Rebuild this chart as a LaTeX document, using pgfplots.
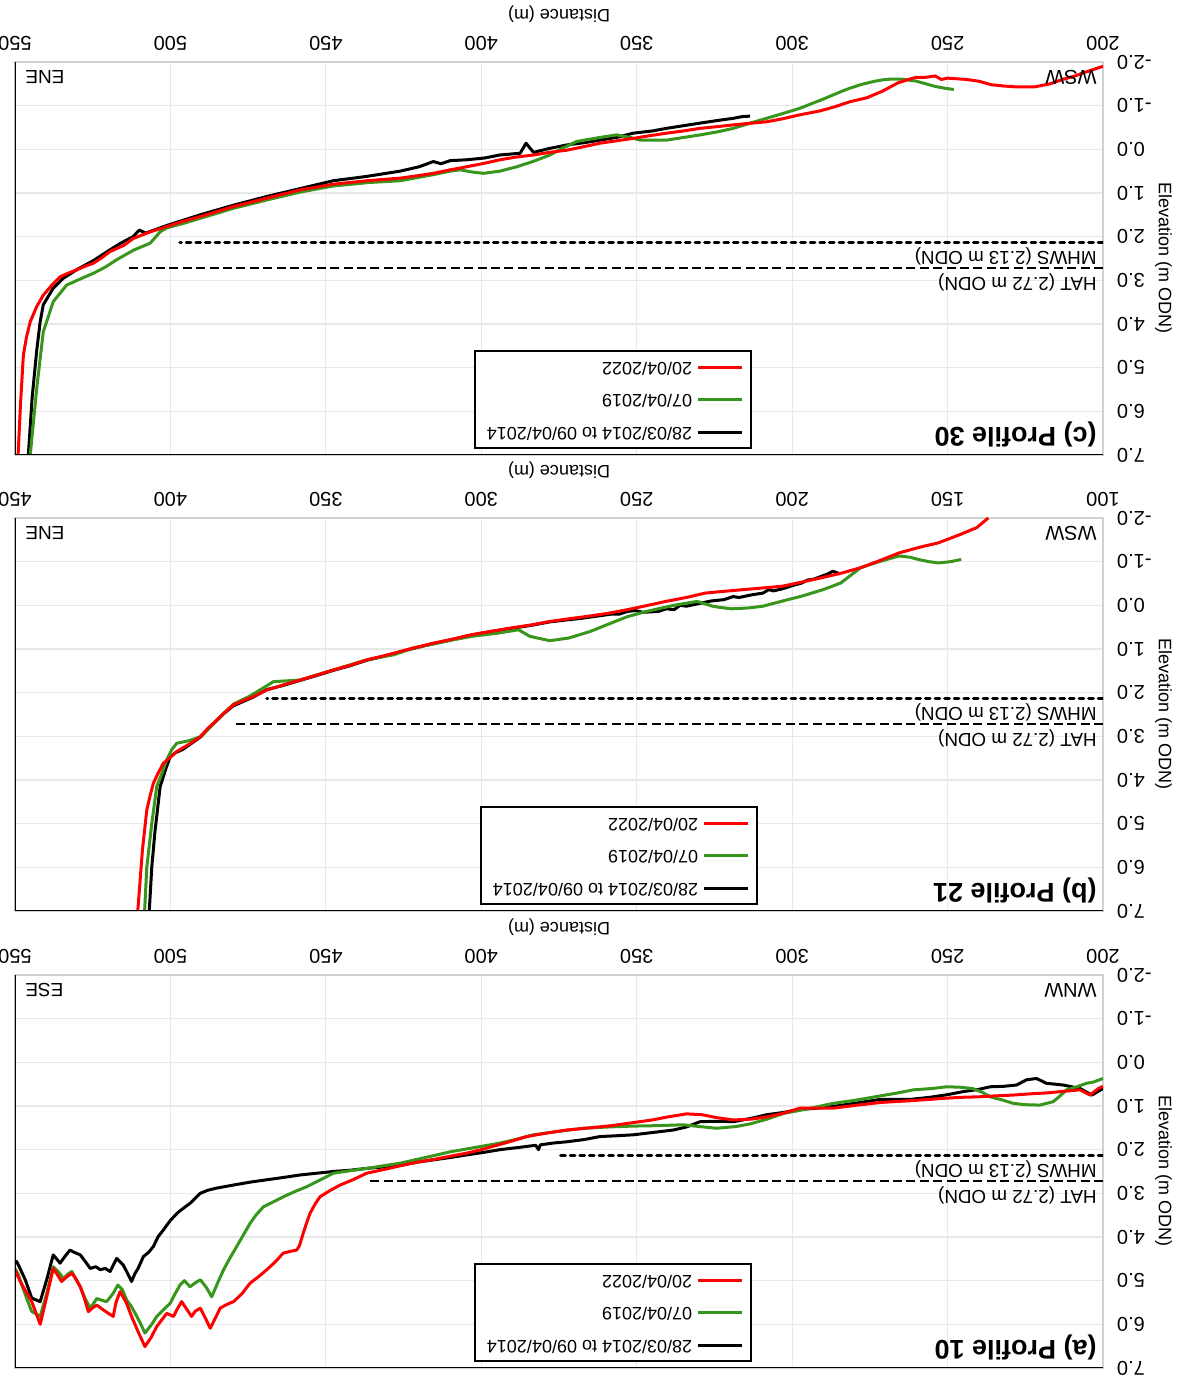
\documentclass[border=0pt]{standalone}
\usepackage{fontspec}
\setmainfont{Liberation Sans}
\usepackage{pgfplots}
\pgfplotsset{compat=1.18}
\definecolor{cgreen}{RGB}{56,150,28}
\definecolor{cred}{RGB}{255,0,0}
\pgfplotsset{
 prof/.style={
   scale only axis, width=544pt, height=196.5pt,
   ymin=-2, ymax=7, ytick={-2,...,7},
   xtick distance=50,
   /pgf/number format/assume math mode=true,
   yticklabel style={xshift=-3.5pt, /pgf/number format/.cd, fixed, fixed zerofill, precision=1},
   xticklabel style={yshift=-2pt, /pgf/number format/.cd, fixed, precision=0},
   tick label style={font=\fontsize{10}{12}\selectfont},
   label style={font=\fontsize{9}{11}\selectfont},
   xlabel={Distance (m)}, ylabel={Elevation (m ODN)},
   ylabel shift=-5pt,
   grid=major, major grid style={gray!18, line width=0.6pt},
   axis line style={gray!35, line width=0.8pt},
   major tick length=0pt,
   legend cell align=left,
   legend image code/.code={\draw[##1] (0pt,0pt) -- (22pt,0pt);},
   legend style={at={(0.3226,0.985)}, anchor=north west, draw=black, line width=0.9pt,
      font=\fontsize{9}{11}\selectfont, row sep=4.2pt, inner xsep=4pt, inner ysep=2pt},
 },
 blk/.style={black, line width=1.5pt, line join=round},
 grn/.style={cgreen, line width=1.5pt, line join=round},
 rd/.style={cred, line width=1.5pt, line join=round},
 hat/.style={black, line width=1.3pt, dash pattern=on 4.5pt off 2.2pt, forget plot},
 mhws/.style={black, line width=1.4pt, line cap=round, dash pattern=on 2.4pt off 2.4pt, forget plot},
}
\newcommand{\frameblack}{\draw[black, line width=1pt] (rel axis cs:0,1) -- (rel axis cs:1,1) -- (rel axis cs:1,0);}
\newcommand{\tlab}[1]{\node[anchor=north west, inner sep=2pt, font=\bfseries\fontsize{13.5}{16}\selectfont] at ([xshift=1pt,yshift=-2pt]rel axis cs:0,1) {#1};}
\newcommand{\dirlab}[2]{\node[anchor=south west, inner sep=2pt, font=\fontsize{10}{12}\selectfont] at ([xshift=1pt,yshift=2pt]rel axis cs:0,0) {#1};
 \node[anchor=south east, inner sep=2pt, font=\fontsize{9.5}{11}\selectfont] at ([xshift=-3pt,yshift=2pt]rel axis cs:1,0) {#2};}
\newcommand{\levlab}[1]{%
\node[anchor=base west, inner sep=0pt, font=\fontsize{9.4}{11}\selectfont] at ([xshift=3pt,yshift=4.5pt]axis cs:#1,2.72) {HAT (2.72 m ODN)};
\node[anchor=base west, inner sep=0pt, font=\fontsize{9.4}{11}\selectfont] at ([xshift=3pt,yshift=4.5pt]axis cs:#1,2.13) {MHWS (2.13 m ODN)};}
\begin{document}
\begin{tikzpicture}[rotate=180, transform shape]
\path[use as bounding box] (0pt,0pt) rectangle (591.5pt,-690pt);
% ---------------- (a) Profile 10
\begin{axis}[prof, at={(40pt,-202.5pt)}, anchor=south west, xmin=200, xmax=550]
\addplot[blk] coordinates {(200,0.60) (203.6,0.75) (207.4,0.60) (212.8,0.52) (218.2,0.48) (221.4,0.37) (224.6,0.40) (227.8,0.52) (232,0.55) (236.3,0.56) (240,0.62) (244.9,0.67) (250,0.74) (255.6,0.80) (262,0.85) (271.7,0.85) (279,0.93) (286.8,1.01) (292,1.05) (297.5,1.08) (303,1.15) (308.2,1.2) (313,1.28) (318.9,1.36) (324,1.35) (329.6,1.36) (334,1.48) (338.2,1.55) (344,1.6) (351.1,1.66) (356,1.68) (361.8,1.7) (367,1.77) (372.5,1.82) (377,1.85) (381,1.89) (381.6,2.0) (382.5,1.9) (388,1.95) (394,2.0) (399,2.06) (404.7,2.12) (410,2.18) (415,2.23) (420,2.28) (426.1,2.35) (432,2.4) (437,2.43) (442,2.47) (447.6,2.5) (453,2.54) (458.3,2.58) (463,2.63) (469,2.69) (474,2.74) (479.7,2.81) (485.1,2.88) (488,2.93) (490.4,3.0) (493.7,3.23) (496,3.35) (497.9,3.46) (500,3.62) (502.3,3.84) (504,4.0) (505.5,4.22) (507,4.35) (508.7,4.45) (510.4,4.72) (511.5,4.85) (512.5,5.02) (514,4.8) (515.2,4.64) (517.3,4.49) (519.4,4.79) (521,4.72) (522.6,4.75) (524,4.68) (525.8,4.72) (527.5,4.55) (529,4.41) (531,4.35) (532.3,4.3) (534,4.45) (535.5,4.6) (537.7,4.41) (539.8,4.98) (541.9,5.48) (544.6,5.4) (546.7,4.98) (548.5,4.7) (549.5,4.56) (550,4.6)};
\addlegendentry{28/03/2014 to 09/04/2014}
\addplot[grn] coordinates {(200,0.37) (203,0.45) (205.3,0.48) (208,0.55) (211.7,0.63) (214,0.78) (216,0.9) (220.3,0.98) (225,0.97) (228.9,0.94) (232,0.87) (236.3,0.79) (239,0.68) (242,0.6) (246,0.57) (250.3,0.56) (255,0.6) (261,0.63) (266,0.7) (271.7,0.77) (279,0.86) (286.8,0.94) (292,1.02) (297.5,1.1) (302.8,1.17) (308,1.3) (313.5,1.41) (318,1.47) (324.3,1.51) (330,1.47) (335,1.43) (343,1.45) (351.1,1.46) (359,1.48) (367.2,1.51) (375,1.58) (383.2,1.66) (388,1.75) (394,1.85) (402,1.95) (410,2.05) (418,2.18) (426.1,2.31) (436.9,2.43) (442,2.48) (447.6,2.54) (452,2.7) (456.2,2.85) (460,2.96) (463.7,3.08) (467,3.2) (470.1,3.31) (472.5,3.5) (474.4,3.69) (476.5,3.95) (478.7,4.22) (481,4.5) (482.9,4.75) (484.8,5.05) (486.7,5.37) (488.5,5.15) (490.4,4.98) (492,5.05) (493.7,5.14) (495.5,5.0) (496.9,5.1) (498.5,5.3) (500.1,5.52) (502,5.65) (504.4,5.82) (506,6.0) (508.2,6.2) (509.5,6.0) (510.8,5.82) (512.5,5.6) (514.1,5.44) (515.5,5.2) (516.9,5.1) (518.5,5.3) (520.5,5.48) (522,5.45) (523.7,5.41) (525,5.55) (525.8,5.63) (527.5,5.4) (529,5.14) (530.5,4.95) (531.7,4.79) (533,4.85) (534.4,4.95) (536,4.8) (537.7,4.68) (539.8,5.3) (541.9,5.82) (543.5,5.75) (544.6,5.71) (546,5.45) (547.3,5.2) (549,4.85) (550,4.72)};
\addlegendentry{07/04/2019}
\addplot[rd] coordinates {(200,0.55) (201.5,0.6) (204.2,0.75) (205.5,0.7) (207.4,0.63) (212,0.66) (218,0.7) (223,0.72) (228.9,0.75) (235,0.77) (240,0.79) (245,0.8) (250.3,0.82) (256,0.85) (262,0.88) (267,0.9) (271.7,0.92) (279,0.98) (286.8,1.05) (292,1.05) (297.5,1.05) (303,1.17) (308.2,1.25) (313,1.3) (318.9,1.32) (324,1.27) (329,1.2) (333.9,1.18) (340,1.25) (345,1.32) (351.1,1.38) (358,1.45) (365,1.5) (372.5,1.55) (379,1.62) (385.4,1.7) (390,1.8) (395,1.9) (400,2.0) (404.7,2.08) (410,2.15) (415,2.22) (420,2.28) (426.1,2.37) (431,2.45) (436.9,2.54) (441,2.68) (445.4,2.81) (449,2.95) (451.9,3.08) (453.5,3.25) (455.1,3.46) (456.3,3.7) (457.3,3.92) (458.5,4.2) (459.4,4.3) (461.5,4.33) (463.7,4.37) (466,4.55) (469,4.75) (471.5,4.9) (474.4,5.06) (477,5.3) (479.7,5.48) (482,5.55) (484,5.63) (485.5,5.85) (487.2,6.09) (488.8,5.85) (490.4,5.63) (492,5.7) (493.2,5.82) (494.8,5.65) (496.4,5.48) (497.8,5.65) (499,5.82) (500.2,5.78) (501.2,5.75) (502.8,5.9) (504.4,6.05) (506.2,6.3) (508.2,6.51) (510.2,6.2) (512.5,5.82) (514.2,5.5) (516.2,5.25) (517.5,5.5) (518.4,5.82) (521,5.7) (523.7,5.56) (525,5.62) (526.4,5.71) (527.7,5.4) (529,5.14) (530.5,4.95) (531.7,4.83) (533.5,4.92) (535,5.02) (536.5,4.85) (537.7,4.72) (539.8,5.37) (541.9,6.0) (543.2,5.75) (544.6,5.48) (546.5,5.25) (548,5.06) (550,4.76)};
\addlegendentry{20/04/2022}
\addplot[hat] coordinates {(200,2.72) (436.3,2.72)};
\addplot[mhws] coordinates {(200,2.13) (376,2.13)};
\levlab{200}
\tlab{(a) Profile 10}
\dirlab{WNW}{ESE}
\frameblack
\end{axis}
% ---------------- (b) Profile 21
\begin{axis}[prof, at={(40pt,-431pt)}, anchor=south west, xmin=100, xmax=450, legend style={at={(0.3171,0.985)}}]
\addplot[blk] coordinates {(184.6,-0.72) (186.9,-0.78) (188.5,-0.72) (190,-0.68) (193,-0.6) (195,-0.58) (196.9,-0.51) (200,-0.45) (203,-0.38) (206,-0.33) (207.5,-0.36) (209.4,-0.28) (213,-0.24) (217,-0.18) (219,-0.2) (221.9,-0.13) (226,-0.1) (230,-0.04) (234,0.02) (236,0.0) (238,0.1) (240.5,0.08) (243,0.14) (248,0.16) (250.5,0.12) (253,0.14) (255.5,0.2) (258,0.2) (263,0.25) (268,0.3) (272,0.33) (278,0.38) (284,0.46) (290.6,0.53) (297,0.6) (303,0.68) (309,0.78) (315.6,0.88) (322,0.99) (326.2,1.07) (331,1.16) (336.9,1.26) (342,1.38) (347.6,1.49) (353,1.61) (358.3,1.72) (364,1.84) (369,1.93) (373.3,2.1) (376.5,2.2) (379.7,2.3) (382.5,2.46) (385.1,2.64) (388,2.84) (390.4,3.02) (393,3.15) (396,3.3) (398.5,3.38) (400.1,3.47) (401.5,3.75) (403.3,4.15) (405,5.2) (406,6.0) (406.8,7.0)};
\addlegendentry{28/03/2014 to 09/04/2014}
\addplot[grn] coordinates {(145.6,-1.05) (149,-1.0) (153,-0.97) (156,-1.0) (159.4,-1.05) (162,-1.1) (165.6,-1.13) (172,-1.0) (178,-0.86) (184.4,-0.51) (190,-0.36) (196.9,-0.21) (203,-0.1) (209.4,0.02) (214,0.06) (219.4,0.08) (223,0.05) (225.6,0.02) (230.6,-0.09) (238,0.0) (246.9,0.14) (253,0.26) (259.4,0.44) (265,0.6) (271.9,0.75) (278,0.81) (284.4,0.71) (288,0.56) (295,0.64) (303,0.71) (309,0.79) (315,0.88) (322,0.98) (328,1.13) (336.9,1.25) (347.6,1.48) (358.3,1.71) (366.9,1.75) (371,1.93) (375,2.1) (379.7,2.26) (385,2.62) (390,3.0) (394,3.1) (398,3.16) (399.5,3.3) (401.2,3.54) (403,3.9) (404.4,4.15) (406,5.0) (407.6,6.0) (408.3,7.0)};
\addlegendentry{07/04/2019}
\addplot[rd] coordinates {(136.9,-2.0) (140.6,-1.78) (146,-1.62) (153,-1.43) (159,-1.33) (165.6,-1.2) (172,-1.02) (178,-0.86) (184,-0.74) (190.6,-0.63) (197,-0.53) (203,-0.44) (209,-0.4) (215.6,-0.36) (222,-0.32) (228,-0.28) (234,-0.18) (240.6,-0.09) (247,0.01) (253,0.1) (259,0.18) (265.6,0.25) (272,0.31) (278,0.37) (284,0.45) (290.6,0.52) (297,0.6) (303,0.67) (309,0.77) (315.6,0.87) (322,0.98) (326.2,1.06) (331,1.15) (336.9,1.25) (342,1.37) (347.6,1.48) (353,1.6) (358.3,1.71) (364,1.83) (369,1.94) (373.3,2.09) (376.5,2.18) (379.7,2.28) (382.5,2.45) (385.1,2.63) (388,2.82) (390.4,3.01) (394,3.18) (398,3.35) (400,3.48) (402.3,3.62) (404,3.85) (405.5,4.08) (406.5,4.35) (407.6,4.69) (409,5.6) (410.5,7.0)};
\addlegendentry{20/04/2022}
\addplot[hat] coordinates {(100,2.72) (379.7,2.72)};
\addplot[mhws] coordinates {(100,2.13) (369,2.13)};
\levlab{100}
\tlab{(b) Profile 21}
\dirlab{WSW}{ENE}
\frameblack
\end{axis}
% ---------------- (c) Profile 30
\begin{axis}[prof, at={(40pt,-659pt)}, anchor=south west, xmin=200, xmax=550]
\addplot[blk] coordinates {(313.5,-0.76) (316,-0.75) (318.9,-0.71) (324,-0.66) (329.6,-0.6) (335,-0.54) (340.4,-0.48) (345,-0.42) (351.1,-0.37) (356,-0.28) (361.8,-0.21) (367,-0.15) (372.5,-0.10) (378,-0.02) (383.2,0.07) (385.6,-0.14) (387.5,0.09) (394,0.13) (399,0.2) (404.7,0.24) (410,0.26) (413,0.33) (415.4,0.28) (420,0.4) (426.1,0.5) (436.8,0.62) (447.6,0.72) (458.3,0.9) (469,1.08) (479.7,1.28) (490.4,1.5) (501,1.74) (508,1.92) (510,1.85) (512,2.0) (516,2.15) (519.4,2.3) (524.8,2.55) (530,2.75) (534.4,2.95) (537.7,3.18) (540.9,3.56) (541.9,3.95) (543,4.6) (544.5,5.7) (545.7,7.0)};
\addlegendentry{28/03/2014 to 09/04/2014}
\addplot[grn] coordinates {(248,-1.37) (251,-1.4) (254,-1.44) (257,-1.5) (260,-1.56) (263,-1.59) (265,-1.61) (268,-1.61) (271,-1.59) (274,-1.55) (278,-1.48) (281.4,-1.4) (284,-1.33) (290,-1.15) (297.5,-0.94) (303,-0.82) (308.2,-0.71) (313.5,-0.6) (318.9,-0.48) (324,-0.4) (329.6,-0.33) (335,-0.27) (340.4,-0.21) (348.9,-0.21) (352,-0.27) (356.5,-0.33) (362,-0.27) (369.3,-0.18) (374,-0.02) (377.9,0.13) (383,0.27) (388.6,0.4) (394,0.5) (399.3,0.55) (403,0.52) (406.8,0.47) (410,0.5) (415.4,0.58) (426.1,0.72) (436,0.76) (447.6,0.84) (458.3,0.98) (469,1.16) (479.7,1.35) (490.4,1.58) (496,1.7) (501.2,1.8) (503.3,1.89) (506.5,2.15) (511.9,2.31) (517.3,2.53) (521,2.7) (524.8,2.84) (529,2.97) (533.4,3.11) (537.7,3.49) (540.9,4.18) (543,5.47) (545.1,7.0)};
\addlegendentry{07/04/2019}
\addplot[rd] coordinates {(200,-1.9) (203,-1.83) (206,-1.76) (209,-1.68) (213,-1.6) (217,-1.5) (222,-1.43) (228,-1.43) (232,-1.45) (236,-1.48) (240,-1.56) (244,-1.6) (248,-1.62) (250,-1.63) (252,-1.6) (254,-1.68) (257,-1.65) (260,-1.65) (263,-1.59) (266,-1.52) (271,-1.33) (276,-1.18) (281.4,-1.09) (286,-0.98) (291,-0.88) (297.5,-0.79) (303,-0.7) (308.2,-0.63) (313,-0.6) (318.9,-0.56) (324,-0.52) (329.6,-0.48) (335,-0.42) (340.4,-0.37) (346,-0.31) (351.1,-0.25) (356,-0.2) (361.8,-0.14) (367,-0.06) (372.5,0.02) (378,0.07) (383.2,0.13) (389,0.18) (394,0.24) (399,0.32) (404.7,0.4) (410,0.47) (415.4,0.55) (420,0.6) (426.1,0.66) (436.8,0.72) (447.6,0.8) (458.3,0.93) (469,1.12) (479.7,1.31) (490.4,1.54) (496,1.65) (501.2,1.77) (506.5,1.89) (511.9,2.04) (515,2.2) (519.4,2.34) (522,2.48) (524.8,2.61) (527.5,2.68) (530.1,2.76) (533,2.84) (535.5,2.92) (538,3.1) (540.9,3.34) (543,3.6) (545.1,3.95) (546.3,4.3) (547.3,4.71) (548.2,5.8) (549,7.0)};
\addlegendentry{20/04/2022}
\addplot[hat] coordinates {(200,2.72) (514,2.72)};
\addplot[mhws] coordinates {(200,2.13) (497,2.13)};
\levlab{200}
\tlab{(c) Profile 30}
\dirlab{WSW}{ENE}
\frameblack
\end{axis}
\end{tikzpicture}
\end{document}
